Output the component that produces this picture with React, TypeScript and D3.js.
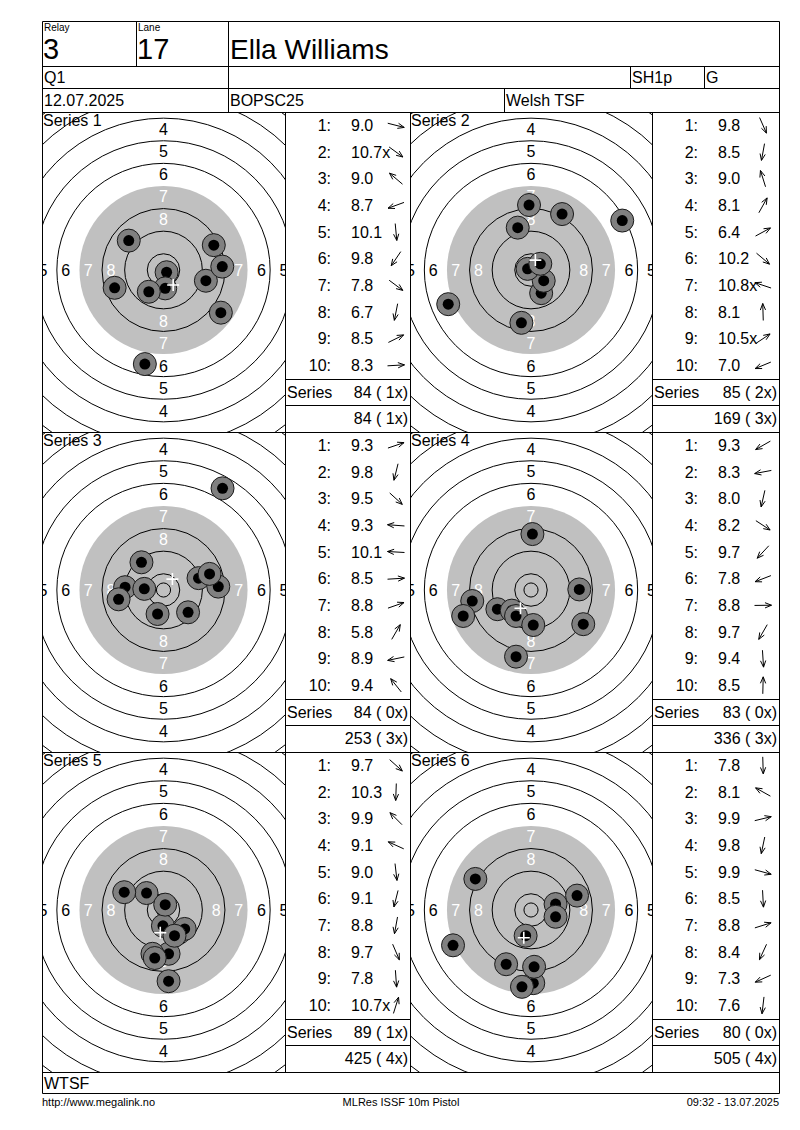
import React from 'react';
import * as d3 from 'd3';

// ---------- data ----------
const relay = '3';
const lane = '17';
const shooterName = 'Ella Williams';
const roundLabel = 'Q1';
const classLabel = 'SH1p';
const groupLabel = 'G';
const dateLabel = '12.07.2025';
const eventLabel = 'BOPSC25';
const clubLabel = 'Welsh TSF';
const footerClub = 'WTSF';
const footerLeft = 'http://www.megalink.no';
const footerMid = 'MLRes ISSF 10m Pistol';
const footerRight = '09:32 - 13.07.2025';

const seriesNames = ['Series 1', 'Series 2', 'Series 3', 'Series 4', 'Series 5', 'Series 6'];

const shotScores = [
  [9.0, 10.7, 9.0, 8.7, 10.1, 9.8, 7.8, 6.7, 8.5, 8.3],
  [9.8, 8.5, 9.0, 8.1, 6.4, 10.2, 10.8, 8.1, 10.5, 7.0],
  [9.3, 9.8, 9.5, 9.3, 10.1, 8.5, 8.8, 5.8, 8.9, 9.4],
  [9.3, 8.3, 8.0, 8.2, 9.7, 7.8, 8.8, 9.7, 9.4, 8.5],
  [9.7, 10.3, 9.9, 9.1, 9.0, 9.1, 8.8, 9.7, 7.8, 10.7],
  [7.8, 8.1, 9.9, 9.8, 9.9, 8.5, 8.8, 8.4, 7.3, 7.6],
];

// shot positions in mm from target centre (x right, y up)
const shotX = [
  [15.0, 1.1, -12.3, -17.3, 0.6, -5.2, 20.3, -6.6, 17.8, 20.8],
  [3.6, -3.4, -4.7, 11.0, 32.3, 4.5, -1.2, -0.7, 3.3, -29.3],
  [12.4, -2.1, 8.7, -13.6, -6.8, 19.4, 16.3, 20.9, -15.9, -7.8],
  [-11.9, -20.8, -5.3, 18.5, -6.8, -24.0, 17.1, -5.3, 0.8, 0.5],
  [7.5, -0.2, -6.0, -13.9, 1.8, -3.9, -3.1, 3.9, 1.8, 0.6],
  [0.8, -19.7, 8.7, -1.9, 8.7, 1.1, 16.3, -8.8, -27.6, -3.2],
];
const shotY = [
  [-3.8, -0.8, 10.4, -6.3, -6.5, -7.7, -15.1, -33.3, 8.8, 1.2],
  [-8.2, -18.7, 15.0, 19.8, 17.5, -3.8, 0.4, 23.0, 2.2, -12.1],
  [4.2, -8.5, -7.9, 1.0, 0.4, 1.2, 5.7, 36.0, -3.3, 9.8],
  [-6.8, -3.9, -23.6, -12.1, -7.3, -9.2, 0.2, -9.2, -12.4, 19.8],
  [-6.7, -5.6, 6.0, 6.3, -15.5, -15.5, -17.0, -9.1, -25.2, 1.9],
  [-25.9, 11.0, 2.1, -9.1, -2.4, -20.1, 5.1, -19.2, -12.5, -27.2],
];

const ringNumbers = [1, 2, 3, 4, 5, 6, 7, 8, 9, 10];
const labelRings = [4, 5, 6, 7, 8];

// ---------- layout ----------
const FONT = "'Liberation Sans', Arial, Helvetica, sans-serif";
const PX_PER_MM = 2.825;
const colBounds = [42, 285, 410, 652, 779];
const boxLeft = 42;
const boxRight = 779;
const boxTop = 21;
const headerLines = [66, 88];
const panelTop = 112;
const panelH = 320;
const footerRowBottom = 1093;
const ringOuterMm = (k: number) => 5.75 + 8 * (10 - k);
const innerTenMm = 2.5;
const blackRing = 7;

const p = (v: number) => Math.round(v) + 0.5;

function fmtScore(s: number) {
  return s.toFixed(1) + (s >= 10.45 ? 'x' : '');
}
function seriesTotal(scores: number[]) {
  return d3.sum(scores, (s) => Math.floor(s));
}
function seriesX(scores: number[]) {
  return scores.filter((s) => s >= 10.45).length;
}
function fmtTotal(t: number, x: number) {
  return `${t} (${String(x).padStart(2, ' ')}x)`;
}

function Target({ idx, x0, x1, top }: { idx: number; x0: number; x1: number; top: number }) {
  const cx = (x0 + x1) / 2;
  const cy = top + 158;
  const sx = d3.scaleLinear().domain([-1, 1]).range([cx - PX_PER_MM, cx + PX_PER_MM]);
  const sy = d3.scaleLinear().domain([-1, 1]).range([cy + PX_PER_MM, cy - PX_PER_MM]);
  const sr = d3.scaleLinear().domain([0, 1]).range([0, PX_PER_MM]);
  const xs = shotX[idx];
  const ys = shotY[idx];
  const mx = sx(d3.mean(xs) as number);
  const my = sy(d3.mean(ys) as number);
  const clipId = `clip-t${idx}`;
  return (
    <g>
      <defs>
        <clipPath id={clipId}>
          <rect x={x0} y={top} width={x1 - x0} height={panelH} />
        </clipPath>
      </defs>
      <g clipPath={`url(#${clipId})`}>
        <circle cx={cx} cy={cy} r={sr(ringOuterMm(blackRing))} fill="#c0c0c0" />
        {ringNumbers
          .filter((k) => k !== blackRing)
          .map((k) => (
            <circle key={k} cx={cx} cy={cy} r={sr(ringOuterMm(k))} fill="none" stroke="#000" strokeWidth={1} />
          ))}
        <circle cx={cx} cy={cy} r={sr(innerTenMm)} fill="none" stroke="#000" strokeWidth={1} />
        {labelRings.map((k) => {
          const inner = ringOuterMm(k + 1);
          const width = ringOuterMm(k) - inner;
          const rv = sr(inner + 0.53 * width);
          const rh = sr(inner + 0.61 * width);
          const col = k >= blackRing ? '#fff' : '#000';
          const pos = [
            [cx, cy - rv],
            [cx, cy + rv],
            [cx - rh, cy],
            [cx + rh, cy],
          ];
          return pos.map(([lx, ly], j) => (
            <text key={`${k}-${j}`} x={lx} y={ly + 5.8} textAnchor="middle" fontSize={16} fill={col}>
              {k}
            </text>
          ));
        })}
        {xs.map((x, i) => (
          <g key={i}>
            <circle cx={sx(x)} cy={sy(ys[i])} r={11.5} fill="#808080" stroke="#1a1a1a" strokeWidth={1} />
            <circle cx={sx(x)} cy={sy(ys[i])} r={5.5} fill="#000" />
          </g>
        ))}
        <path d={`M${mx - 6},${my}H${mx + 6}M${mx},${my - 6}V${my + 6}`} stroke="#fff" strokeWidth={1.6} />
      </g>
      <text x={x0 + 1} y={top + 14} fontSize={16} fill="#000">
        {seriesNames[idx]}
      </text>
    </g>
  );
}

function Arrow({ cx, cy, dx, dy }: { cx: number; cy: number; dx: number; dy: number }) {
  const len = Math.hypot(dx, dy) || 1;
  const ux = dx / len;
  const uy = dy / len;
  const half = 8.5;
  const tx = cx + ux * half;
  const ty = cy + uy * half;
  const bx = cx - ux * half;
  const by = cy - uy * half;
  const wing = 7;
  const a = (22 * Math.PI) / 180;
  const w1x = tx + wing * (-ux * Math.cos(a) + uy * Math.sin(a));
  const w1y = ty + wing * (-ux * Math.sin(a) - uy * Math.cos(a));
  const w2x = tx + wing * (-ux * Math.cos(a) - uy * Math.sin(a));
  const w2y = ty + wing * (ux * Math.sin(a) - uy * Math.cos(a));
  return (
    <path
      d={`M${bx},${by}L${tx},${ty}M${w1x},${w1y}L${tx},${ty}L${w2x},${w2y}`}
      stroke="#000"
      strokeWidth={1}
      fill="none"
    />
  );
}

function ScoreTable({ idx, x0, x1, top, cumTotal, cumX }: { idx: number; x0: number; x1: number; top: number; cumTotal: number; cumX: number }) {
  const rowScale = d3.scaleBand<number>().domain(d3.range(12)).range([top, top + panelH]);
  const rh = rowScale.bandwidth();
  const scores = shotScores[idx];
  const total = seriesTotal(scores);
  const nx = seriesX(scores);
  const mid = (i: number) => (rowScale(i) as number) + rh / 2;
  return (
    <g fontSize={16} fill="#000">
      {scores.map((s, i) => (
        <g key={i}>
          <text x={x0 + 46} y={mid(i) + 5.6} textAnchor="end">
            {`${i + 1}:`}
          </text>
          <text x={x0 + 66} y={mid(i) + 5.6}>
            {fmtScore(s)}
          </text>
          <Arrow cx={x0 + 111} cy={mid(i)} dx={shotX[idx][i]} dy={-shotY[idx][i]} />
        </g>
      ))}
      <line x1={x0} x2={x1} y1={p(rowScale(10) as number)} y2={p(rowScale(10) as number)} stroke="#000" />
      <line x1={x0} x2={x1} y1={p(rowScale(11) as number)} y2={p(rowScale(11) as number)} stroke="#000" />
      <text x={x0 + 2} y={mid(10) + 5.6}>
        Series
      </text>
      <text x={x1 - 2} y={mid(10) + 5.6} textAnchor="end" style={{ whiteSpace: 'pre' }}>
        {fmtTotal(total, nx)}
      </text>
      <text x={x1 - 2} y={mid(11) + 5.6} textAnchor="end" style={{ whiteSpace: 'pre' }}>
        {fmtTotal(cumTotal, cumX)}
      </text>
    </g>
  );
}

export default function App() {
  let runT = 0;
  let runX = 0;
  const cums = shotScores.map((sc) => {
    runT += seriesTotal(sc);
    runX += seriesX(sc);
    return [runT, runX];
  });
  const panelRows = 3;
  const panelsBottom = panelTop + panelRows * panelH;
  const line = (x1: number, y1: number, x2: number, y2: number, key: string) => (
    <line key={key} x1={x1} y1={y1} x2={x2} y2={y2} stroke="#000" strokeWidth={1} />
  );
  return (
    <svg
      width={800}
      height={1130}
      style={{ position: 'absolute', left: 0, top: 0, background: '#fff' }}
      fontFamily={FONT}
    >
      <rect x={0} y={0} width={800} height={1130} fill="#fff" />

      {seriesNames.map((_, idx) => {
        const col = idx % 2;
        const row = Math.floor(idx / 2);
        const top = panelTop + row * panelH;
        const tx0 = colBounds[col * 2];
        const tx1 = colBounds[col * 2 + 1];
        const tb1 = colBounds[col * 2 + 2];
        return (
          <g key={idx}>
            <Target idx={idx} x0={tx0} x1={tx1} top={top} />
            <ScoreTable idx={idx} x0={tx1} x1={tb1} top={top} cumTotal={cums[idx][0]} cumX={cums[idx][1]} />
          </g>
        );
      })}

      {/* grid lines */}
      {line(p(boxLeft), p(boxTop), p(boxRight), p(boxTop), 'top')}
      {line(p(boxLeft), p(boxTop), p(boxLeft), p(footerRowBottom), 'left')}
      {line(p(boxRight), p(boxTop), p(boxRight), p(footerRowBottom), 'right')}
      {line(p(boxLeft), p(footerRowBottom), p(boxRight), p(footerRowBottom), 'bottom')}
      {headerLines.map((y, i) => line(p(boxLeft), p(y), p(boxRight), p(y), `h${i}`))}
      {d3.range(panelRows + 1).map((r) =>
        line(p(boxLeft), p(panelTop + r * panelH), p(boxRight), p(panelTop + r * panelH), `pr${r}`)
      )}
      {colBounds.slice(1, 4).map((x, i) => line(p(x), p(panelTop), p(x), p(panelsBottom), `pc${i}`))}
      {line(p(136), p(boxTop), p(136), p(headerLines[0]), 'relayLane')}
      {line(p(228), p(boxTop), p(228), p(panelTop), 'laneName')}
      {line(p(630), p(headerLines[0]), p(630), p(headerLines[1]), 'cls')}
      {line(p(704), p(headerLines[0]), p(704), p(headerLines[1]), 'grp')}
      {line(p(504), p(headerLines[1]), p(504), p(panelTop), 'club')}

      {/* header text */}
      <text x={44} y={31} fontSize={10}>Relay</text>
      <text x={43} y={59} fontSize={29}>{relay}</text>
      <text x={138} y={31} fontSize={10}>Lane</text>
      <text x={137} y={59} fontSize={29}>{lane}</text>
      <text x={230} y={59} fontSize={28}>{shooterName}</text>
      <text x={44} y={83} fontSize={16}>{roundLabel}</text>
      <text x={632} y={83} fontSize={16}>{classLabel}</text>
      <text x={706} y={83} fontSize={16}>{groupLabel}</text>
      <text x={44} y={106} fontSize={16}>{dateLabel}</text>
      <text x={230} y={106} fontSize={16}>{eventLabel}</text>
      <text x={506} y={106} fontSize={16}>{clubLabel}</text>

      {/* footer */}
      <text x={44} y={1089} fontSize={16}>{footerClub}</text>
      <text x={42} y={1106} fontSize={11}>{footerLeft}</text>
      <text x={401} y={1106} fontSize={11} textAnchor="middle">{footerMid}</text>
      <text x={779} y={1106} fontSize={11} textAnchor="end">{footerRight}</text>
    </svg>
  );
}
